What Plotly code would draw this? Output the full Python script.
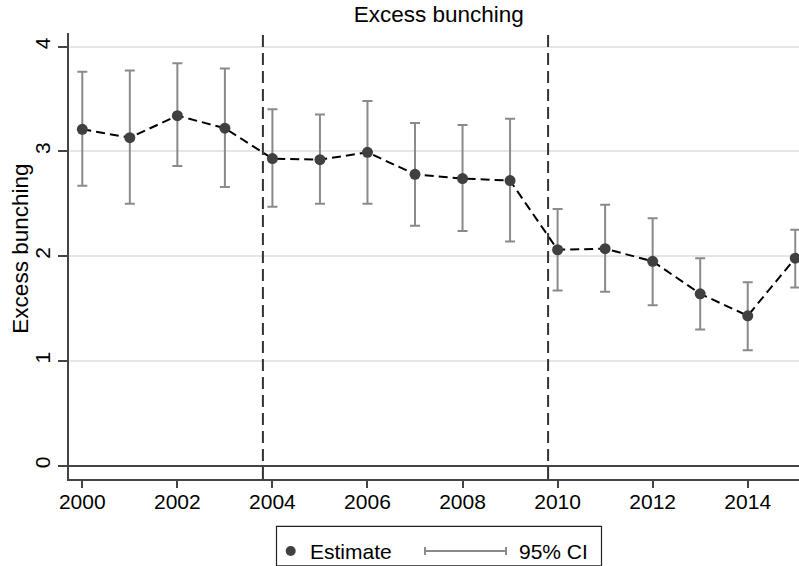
import plotly.graph_objects as go

# ---- data ----
years = [2000, 2001, 2002, 2003, 2004, 2005, 2006, 2007, 2008, 2009,
         2010, 2011, 2012, 2013, 2014, 2015]
estimate = [3.21, 3.13, 3.34, 3.22, 2.93, 2.92, 2.99, 2.78, 2.74, 2.72,
            2.06, 2.07, 1.95, 1.64, 1.43, 1.98]
ci_upper = [3.76, 3.77, 3.84, 3.79, 3.40, 3.35, 3.48, 3.27, 3.25, 3.31,
            2.45, 2.49, 2.36, 1.98, 1.75, 2.25]
ci_lower = [2.67, 2.50, 2.86, 2.66, 2.47, 2.50, 2.50, 2.29, 2.24, 2.14,
            1.67, 1.66, 1.53, 1.30, 1.10, 1.70]
break_years = [2003.8, 2009.8]
x_ticks = [2000, 2002, 2004, 2006, 2008, 2010, 2012, 2014]
y_ticks = [0, 1, 2, 3, 4]

# ---- layout geometry (pixels) ----
W, H = 799, 566
L, R, T, B = 69, 799, 33, 478.7
FONT = "Liberation Sans, Arial, sans-serif"


def px_x(p):
    return (p - L) / (R - L)


def px_y(p):
    return (B - p) / (B - T)


err_plus = [u - e for u, e in zip(ci_upper, estimate)]
err_minus = [e - l for e, l in zip(estimate, ci_lower)]

fig = go.Figure()
fig.add_trace(go.Scatter(
    x=years, y=estimate, mode="markers",
    marker=dict(size=1, color="rgba(0,0,0,0)"),
    error_y=dict(type="data", array=err_plus, arrayminus=err_minus,
                 color="#8a8a8a", thickness=2, width=5),
    showlegend=False, hoverinfo="skip",
))
fig.add_trace(go.Scatter(
    x=years, y=estimate, mode="lines+markers",
    line=dict(color="black", width=2, dash="9px,5px"),
    marker=dict(size=11, color="#404040"),
    showlegend=False,
))

for bx in break_years:
    fig.add_shape(type="line", xref="x", yref="paper", x0=bx, x1=bx,
                  y0=0, y1=1, line=dict(color="#333333", width=2, dash="12px,6px"),
                  layer="above")

# ---- legend built from shapes and text ----
ly = 550.7
fig.add_shape(type="rect", xref="paper", yref="paper",
              x0=px_x(276.5), x1=px_x(601.5), y0=px_y(526), y1=px_y(565.5),
              line=dict(color="#222222", width=1.2), fillcolor="white")
fig.add_shape(type="circle", xref="paper", yref="paper",
              x0=px_x(285.7), x1=px_x(295.7), y0=px_y(545.7), y1=px_y(555.7),
              line=dict(color="#404040", width=0), fillcolor="#404040")
fig.add_shape(type="line", xref="paper", yref="paper",
              x0=px_x(425), x1=px_x(506), y0=px_y(ly), y1=px_y(ly),
              line=dict(color="#8a8a8a", width=2))
for cx in (425, 506):
    fig.add_shape(type="line", xref="paper", yref="paper",
                  x0=px_x(cx), x1=px_x(cx), y0=px_y(ly - 4), y1=px_y(ly + 4),
                  line=dict(color="#8a8a8a", width=2))
fig.add_annotation(text="Estimate", xref="paper", yref="paper",
                   x=px_x(308), y=px_y(ly), xanchor="left", yanchor="middle",
                   showarrow=False, font=dict(family=FONT, size=21, color="black"))
fig.add_annotation(text="95% CI", xref="paper", yref="paper",
                   x=px_x(517), y=px_y(ly), xanchor="left", yanchor="middle",
                   showarrow=False, font=dict(family=FONT, size=21, color="black"))

# y axis title
fig.add_annotation(text="Excess bunching", xref="paper", yref="paper",
                   x=px_x(21), y=px_y(248.5), xanchor="center", yanchor="middle",
                   textangle=-90, showarrow=False,
                   font=dict(family=FONT, size=22.5, color="black"))

x0_val = 2000 + (L - 82.3) / 47.53
x1_val = 2000 + (R - 82.3) / 47.53
y0_val = (465.3 - B) / 104.7
y1_val = (465.3 - T) / 104.7

fig.update_layout(
    width=W, height=H,
    margin=dict(l=L, r=W - R, t=T, b=H - B, pad=0),
    paper_bgcolor="white", plot_bgcolor="white",
    font=dict(family=FONT, color="black"),
    title=dict(text="Excess bunching", x=px_x(438.8), xref="paper", xanchor="center",
               y=1 - 14.5 / H, yref="container", yanchor="middle",
               font=dict(family=FONT, size=22.5, color="black")),
    xaxis=dict(range=[x0_val, x1_val], tickvals=x_ticks,
               ticktext=[str(v) for v in x_ticks],
               showgrid=False, zeroline=False,
               showline=True, linecolor="#444444", linewidth=2,
               ticks="outside", ticklen=7, tickwidth=2, tickcolor="#444444",
               ticklabelstandoff=-4,
               tickfont=dict(family=FONT, size=21, color="black")),
    yaxis=dict(range=[y0_val, y1_val], tickvals=y_ticks,
               ticktext=[str(v) for v in y_ticks], tickangle=-90,
               showgrid=True, gridcolor="#e6e6e6", gridwidth=1.5,
               zeroline=True, zerolinecolor="#444444", zerolinewidth=2,
               showline=True, linecolor="#444444", linewidth=2,
               ticks="outside", ticklen=9, tickwidth=2, tickcolor="#444444",
               tickfont=dict(family=FONT, size=21, color="black")),
)

fig.write_html("out.html")
